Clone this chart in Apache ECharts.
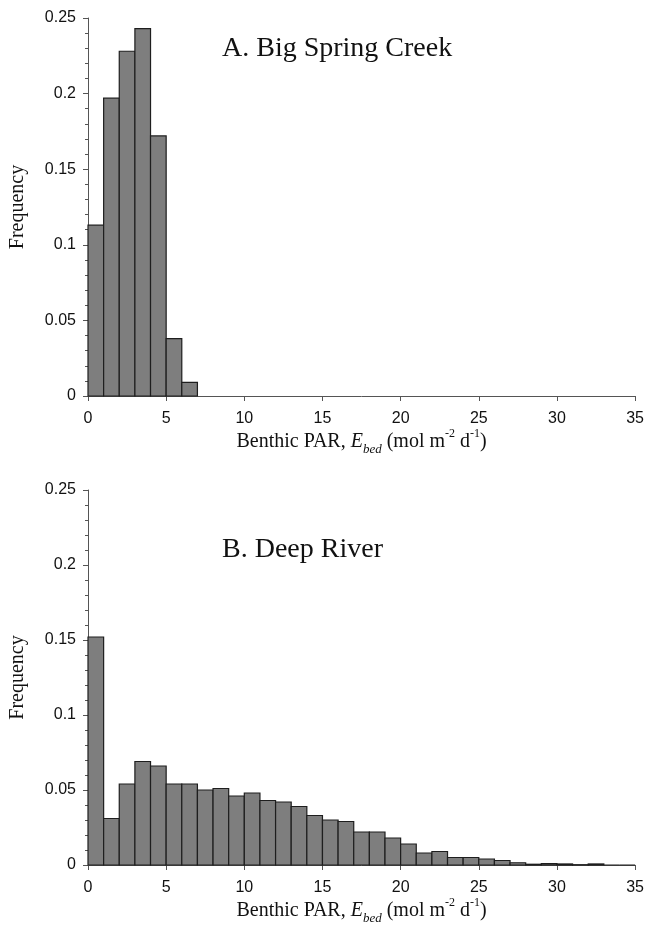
<!DOCTYPE html>
<html>
<head>
<meta charset="utf-8">
<script src="https://cdn.jsdelivr.net/npm/echarts@6/dist/echarts.min.js"></script>
<style>
html,body{margin:0;padding:0;background:#fff;}
#chart{width:647px;height:926px;}
</style>
</head>
<body>
<div id="chart"></div>
<script>
// Panel A: Big Spring Creek
const binStartA = [0, 1, 2, 3, 4, 5, 6];
const binEndA   = [1, 2, 3, 4, 5, 6, 7];
const freqA     = [0.113, 0.197, 0.228, 0.243, 0.172, 0.038, 0.009];

// Panel B: Deep River
const binStartB = [0,1,2,3,4,5,6,7,8,9,10,11,12,13,14,15,16,17,18,19,20,21,22,23,24,25,26,27,28,29,30,31,32,33,34];
const binEndB   = [1,2,3,4,5,6,7,8,9,10,11,12,13,14,15,16,17,18,19,20,21,22,23,24,25,26,27,28,29,30,31,32,33,34,35];
const freqB     = [0.152,0.031,0.054,0.069,0.066,0.054,0.054,0.050,0.051,0.046,0.048,0.043,0.042,0.039,0.033,0.030,0.029,0.022,0.022,0.018,0.014,0.008,0.009,0.005,0.005,0.004,0.003,0.0015,0.0005,0.0009,0.0007,0.0002,0.0007,0,0];

const xTicks = [0, 5, 10, 15, 20, 25, 30, 35];
const yTicks = [0, 0.05, 0.1, 0.15, 0.2, 0.25];

const titleA = 'A. Big Spring Creek';
const titleB = 'B. Deep River';
const yName = 'Frequency';
const xName = '{a|Benthic PAR, }{i|E}{sub|bed}{a| (mol m}{sup|-2}{a| d}{sup|-1}{a|)}';

const serif = '"Liberation Serif", "Times New Roman", serif';
const sans = '"Liberation Sans", Arial, sans-serif';

function toData(s, e, f) { return f.map((v, i) => [s[i], e[i], v]); }

function renderItem(params, api) {
  const x0 = api.value(0), x1 = api.value(1), v = api.value(2);
  const p0 = api.coord([x0, v]);
  const p1 = api.coord([x1, 0]);
  return {
    type: 'rect',
    shape: { x: p0[0], y: p0[1], width: p1[0] - p0[0], height: p1[1] - p0[1] },
    style: { fill: '#7e7e7e', stroke: '#1e1e1e', lineWidth: 1.2 }
  };
}

function xAxisCfg(gi) {
  return {
    type: 'value', gridIndex: gi, min: xTicks[0], max: xTicks[xTicks.length - 1], interval: 5,
    name: xName, nameLocation: 'middle', nameGap: 32,
    nameTextStyle: {
      fontFamily: serif, fontSize: 20, color: '#111',
      rich: {
        a: { fontFamily: serif, fontSize: 20, color: '#111', lineHeight: 28 },
        i: { fontFamily: serif, fontSize: 20, fontStyle: 'italic', color: '#111', lineHeight: 28 },
        sub: { fontFamily: serif, fontSize: 13, fontStyle: 'italic', color: '#111', lineHeight: 12, verticalAlign: 'bottom' },
        sup: { fontFamily: serif, fontSize: 12, color: '#111', lineHeight: 12, verticalAlign: 'top' }
      }
    },
    axisLine: { show: true, onZero: false, lineStyle: { color: '#555', width: 1 } },
    axisTick: { show: true, length: 5, lineStyle: { color: '#555' } },
    axisLabel: { fontFamily: sans, fontSize: 16, color: '#111', margin: 15 },
    splitLine: { show: false }
  };
}

function yAxisCfg(gi) {
  return {
    type: 'value', gridIndex: gi, min: yTicks[0], max: yTicks[yTicks.length - 1], interval: 0.05,
    name: yName, nameLocation: 'middle', nameGap: 60,
    nameTextStyle: { fontFamily: serif, fontSize: 20, color: '#111' },
    axisLine: { show: true, lineStyle: { color: '#555', width: 1 } },
    axisTick: { show: true, length: 5, lineStyle: { color: '#555' } },
    minorTick: { show: true, splitNumber: 5, length: 3, lineStyle: { color: '#555' } },
    axisLabel: { fontFamily: sans, fontSize: 16, color: '#111', margin: 12 },
    splitLine: { show: false }
  };
}

const chart = echarts.init(document.getElementById('chart'), null, { renderer: 'canvas' });
chart.setOption({
  animation: false,
  backgroundColor: '#fff',
  title: [
    { text: titleA, left: 217, top: 30, textStyle: { fontFamily: serif, fontSize: 28, fontWeight: 'normal', color: '#111' } },
    { text: titleB, left: 217, top: 531, textStyle: { fontFamily: serif, fontSize: 28, fontWeight: 'normal', color: '#111' } }
  ],
  grid: [
    { left: 88, right: 11, top: 18, height: 378 },
    { left: 88, right: 11, top: 490, height: 378 }
  ],
  xAxis: [xAxisCfg(0), xAxisCfg(1)],
  yAxis: [yAxisCfg(0), yAxisCfg(1)],
  series: [
    { type: 'custom', xAxisIndex: 0, yAxisIndex: 0, renderItem: renderItem, encode: { x: [0, 1], y: 2 }, data: toData(binStartA, binEndA, freqA) },
    { type: 'custom', xAxisIndex: 1, yAxisIndex: 1, renderItem: renderItem, encode: { x: [0, 1], y: 2 }, data: toData(binStartB, binEndB, freqB) }
  ]
});
</script>
</body>
</html>
